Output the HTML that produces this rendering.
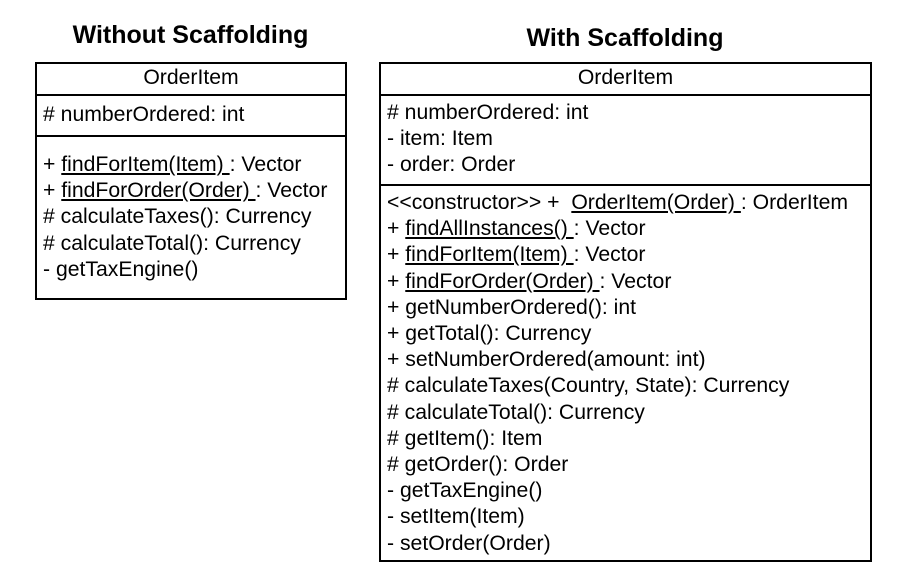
<!DOCTYPE html>
<html><head><style>
body{margin:0;width:899px;height:581px;background:#fff;position:relative;font-family:"Liberation Sans",sans-serif;color:#000;overflow:hidden}
.b{position:absolute;border:2px solid #000;box-sizing:border-box}
.h{position:absolute;height:0;border-top:2px solid #000}
.t{position:absolute;font-size:21.2px;line-height:26.2px;white-space:pre}
.ttl{position:absolute;font-weight:bold;font-size:25px;text-align:center}
u{text-decoration:underline}
</style></head><body>
<div class="ttl" style="left:35px;width:311px;top:21px">Without Scaffolding</div>
<div class="ttl" style="left:379px;width:492px;top:24px">With Scaffolding</div>

<div class="b" style="left:35px;top:62px;width:312px;height:238px"></div>
<div class="h" style="left:35px;top:94px;width:312px"></div>
<div class="h" style="left:35px;top:135px;width:312px"></div>
<div class="t" style="left:35px;width:312px;text-align:center;top:65px">OrderItem</div>
<div class="t" style="left:43px;top:102px"># numberOrdered: int</div>
<div class="t" style="left:43px;top:152px">+ <u>findForItem(Item) </u>: Vector
+ <u>findForOrder(Order) </u>: Vector
# calculateTaxes(): Currency
# calculateTotal(): Currency
- getTaxEngine()</div>

<div class="b" style="left:379px;top:62px;width:493px;height:500px"></div>
<div class="h" style="left:379px;top:94px;width:493px"></div>
<div class="h" style="left:379px;top:184px;width:493px"></div>
<div class="t" style="left:379px;width:493px;text-align:center;top:65px">OrderItem</div>
<div class="t" style="left:387px;top:100px"># numberOrdered: int
- item: Item
- order: Order</div>
<div class="t" style="left:387px;top:190px">&lt;&lt;constructor&gt;&gt; +  <u>OrderItem(Order) </u>: OrderItem
+ <u>findAllInstances() </u>: Vector
+ <u>findForItem(Item) </u>: Vector
+ <u>findForOrder(Order) </u>: Vector
+ getNumberOrdered(): int
+ getTotal(): Currency
+ setNumberOrdered(amount: int)
# calculateTaxes(Country, State): Currency
# calculateTotal(): Currency
# getItem(): Item
# getOrder(): Order
- getTaxEngine()
- setItem(Item)
- setOrder(Order)</div>
</body></html>
